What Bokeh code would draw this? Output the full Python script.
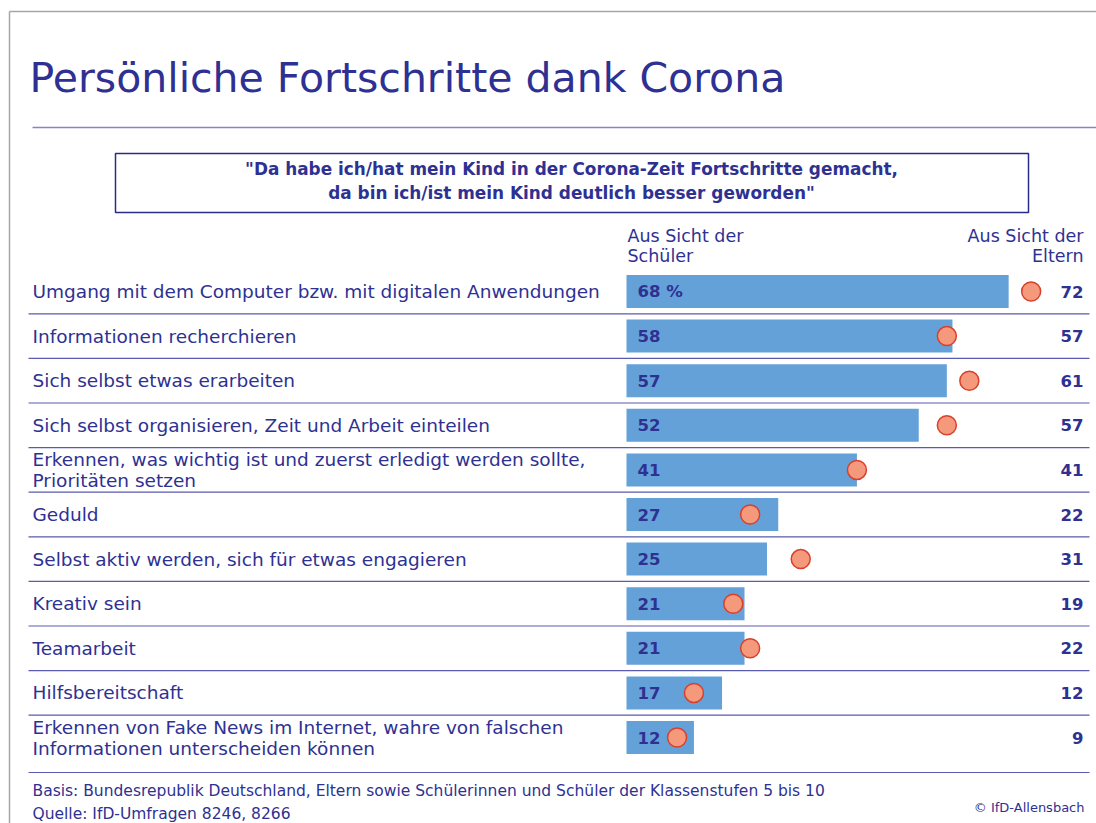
from bokeh.plotting import figure
from bokeh.models import ColumnDataSource, Range1d, Label
from bokeh.core.properties import value
from bokeh.embed import file_html
from bokeh.resources import INLINE

categories = [
    "Umgang mit dem Computer bzw. mit digitalen Anwendungen",
    "Informationen recherchieren",
    "Sich selbst etwas erarbeiten",
    "Sich selbst organisieren, Zeit und Arbeit einteilen",
    "Erkennen, was wichtig ist und zuerst erledigt werden sollte,\nPrioritäten setzen",
    "Geduld",
    "Selbst aktiv werden, sich für etwas engagieren",
    "Kreativ sein",
    "Teamarbeit",
    "Hilfsbereitschaft",
    "Erkennen von Fake News im Internet, wahre von falschen\nInformationen unterscheiden können",
]
schueler = [68, 58, 57, 52, 41, 27, 25, 21, 21, 17, 12]
eltern = [72, 57, 61, 57, 41, 22, 31, 19, 22, 12, 9]
schueler_labels = ["68 %"] + [str(v) for v in schueler[1:]]
eltern_labels = [str(v) for v in eltern]

TITLE = "Persönliche Fortschritte dank Corona"
QUOTE = ("\"Da habe ich/hat mein Kind in der Corona-Zeit Fortschritte gemacht,\n"
         "da bin ich/ist mein Kind deutlich besser geworden\"")
HEAD_LEFT = "Aus Sicht der\nSchüler"
HEAD_RIGHT = "Aus Sicht der\nEltern"
BASIS = "Basis: Bundesrepublik Deutschland, Eltern sowie Schülerinnen und Schüler der Klassenstufen 5 bis 10"
QUELLE = "Quelle: IfD-Umfragen 8246, 8266"
COPY = "© IfD-Allensbach"

NAVY = "#2e3192"
BAR = "#64a1d8"
DOT_FILL = "#f4997b"
DOT_LINE = "#d8402c"
SEP = "#5a5ab0"
FONT_NAME = "DejaVu Sans"
FONT = value(FONT_NAME)

W, H = 1096, 823
X0 = 626.0   # pixel of 0 %
K = 5.62     # px per percentage point
Y0 = 291.0   # pixel of first row
ROW = 44.6   # px per row


def px2x(px):
    return (px - X0) / K


def py2y(py):
    return (py - Y0) / ROW


idx = list(range(len(categories)))
src = ColumnDataSource(dict(idx=idx, cat=categories, s=schueler, e=eltern,
                            sl=schueler_labels, el=eltern_labels))

p = figure(width=W, height=H, output_backend="svg", toolbar_location=None,
           x_range=Range1d(px2x(0), px2x(W)), y_range=Range1d(py2y(H), py2y(0)),
           x_axis_location=None, y_axis_location=None, min_border=0,
           outline_line_color=None, background_fill_color="white")
p.grid.visible = False

# frame lines (grey)
p.segment(x0=[px2x(9), px2x(9)], y0=[py2y(11), py2y(11)], x1=[px2x(W), px2x(9)],
          y1=[py2y(11), py2y(H)], line_color="#a6a6a6", line_width=1.5)

# title + rule
p.add_layout(Label(x=px2x(29), y=py2y(77), text=TITLE, text_font=FONT_NAME,
                   text_font_size="41px", text_color=NAVY, text_baseline="alphabetic"))
p.segment(x0=[px2x(32)], y0=[py2y(127)], x1=[px2x(W)], y1=[py2y(127)],
          line_color="#8585c4", line_width=1.5)

# quote box
p.quad(left=[px2x(115)], right=[px2x(1028)], top=[py2y(153)], bottom=[py2y(212)],
       fill_color=None, line_color="#2b2b8c", line_width=1.5)
p.add_layout(Label(x=px2x(571), y=py2y(180), text=QUOTE, text_font=FONT_NAME,
                   text_font_size="16.9px", text_font_style="bold", text_color=NAVY,
                   text_align="center", text_baseline="middle", text_line_height=1.2))

# column headers
p.add_layout(Label(x=px2x(627), y=py2y(245), text=HEAD_LEFT, text_font=FONT_NAME,
                   text_font_size="17.5px", text_color=NAVY, text_baseline="middle",
                   text_line_height=1.0))
p.add_layout(Label(x=px2x(1083), y=py2y(245), text=HEAD_RIGHT, text_font=FONT_NAME,
                   text_font_size="17.5px", text_color=NAVY, text_align="right",
                   text_baseline="middle", text_line_height=1.0))

# separators
sep_y = [i + 0.5 for i in idx[:-1]] + [py2y(772)]
p.segment(x0=px2x(28), x1=px2x(1089), y0=sep_y, y1=sep_y, line_color=SEP, line_width=1.2)

# bars
p.hbar(y="idx", left=0, right="s", height=33 / ROW, source=src, fill_color=BAR,
       line_color=None)

# dots
p.scatter(x="e", y="idx", source=src, size=19, fill_color=DOT_FILL,
          line_color=DOT_LINE, line_width=1.5)

# texts
p.text(x=px2x(32), y="idx", text="cat", source=src, text_font=FONT,
       text_font_size="18.5px", text_color=NAVY, text_baseline="middle",
       text_line_height=1.0)
p.text(x=px2x(637), y="idx", text="sl", source=src, text_font=FONT,
       text_font_size="16.5px", text_font_style="bold", text_color=NAVY,
       text_baseline="middle")
p.text(x=px2x(1083), y="idx", text="el", source=src, text_font=FONT,
       text_font_size="16.5px", text_font_style="bold", text_color=NAVY,
       text_align="right", text_baseline="middle")

# footnotes
p.add_layout(Label(x=px2x(32), y=py2y(790), text=BASIS, text_font=FONT_NAME,
                   text_font_size="15.5px", text_color=NAVY, text_baseline="middle"))
p.add_layout(Label(x=px2x(32), y=py2y(813), text=QUELLE, text_font=FONT_NAME,
                   text_font_size="15.5px", text_color=NAVY, text_baseline="middle"))
p.add_layout(Label(x=px2x(1084), y=py2y(807), text=COPY, text_font=FONT_NAME,
                   text_font_size="13px", text_color=NAVY, text_align="right",
                   text_baseline="middle"))

open("out.html", "w").write(file_html(p, INLINE))
